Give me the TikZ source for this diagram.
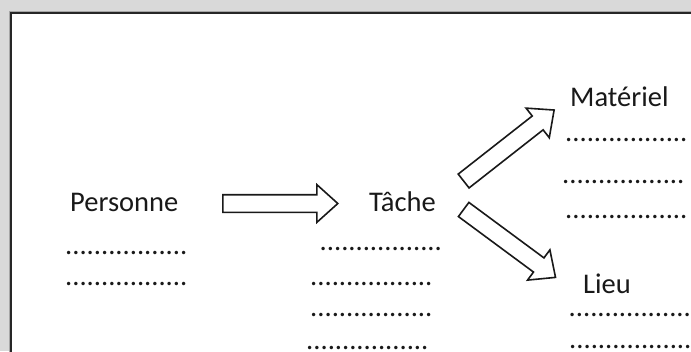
\documentclass[tikz,border=0pt]{standalone}
\usepackage{fontspec}
\setmainfont{Carlito}
\usetikzlibrary{calc,shapes.arrows}
\definecolor{pagegray}{HTML}{D9D9D9}
\tikzset{
  lbl/.style={anchor=base west,inner sep=0pt,text=black!90,font=\fontsize{28.5bp}{34bp}\selectfont},
  dotrow/.style={lbl},
  blockarrow/.style={single arrow,draw=black!90,line width=1.6bp,fill=white,inner xsep=0pt,inner ysep=8bp,
    single arrow head extend=10bp,single arrow tip angle=84}
}
% block arrow: name, tail, tip
\newcommand{\blockarr}[3]{%
  \path let \p1=($(#3)-(#2)$) in
    node[blockarrow,minimum height={veclen(\x1,\y1)},rotate={atan2(\y1,\x1)},anchor=tail] (#1) at (#2) {};}

\begin{document}
\begin{tikzpicture}[x=1bp,y=-1bp]
    \useasboundingbox (0,0) rectangle (691,351);
    \clip (0,0) rectangle (691,351);
    \fill[pagegray] (0,0) rectangle (691,351);
    \draw[gray!70,line width=1bp,fill=white] (9,11) rectangle (720,380);
    \draw[black!85,line width=1.6bp] (11,13) rectangle (720,380);

    % titles
    \node[lbl] (personne) at (70,211) {Personne};
    \node[lbl] (tache) at (369,211.5) {Tâche};
    \node[lbl] (materiel) at (570,106.5) {Matériel};
    \node[lbl] (lieu) at (583,293) {Lieu};

    % dotted lines
    \foreach \x/\y [count=\i] in {65/254,65/285.5}
      \node[dotrow] (pdots\i) at (\x,\y) {.................};
    \foreach \x/\y [count=\i] in {319.5/250.5,310/285,310/316.5,306/349}
      \node[dotrow] (tdots\i) at (\x,\y) {.................};
    \foreach \x/\y [count=\i] in {565/141.5,562/183,565/218}
      \node[dotrow] (mdots\i) at (\x,\y) {.................};
    \foreach \x/\y [count=\i] in {568.5/316.5,569/348}
      \node[dotrow] (ldots\i) at (\x,\y) {.................};

    % arrows
    \coordinate (pt) at (222,203.5);
    \coordinate (tp) at (337,203.5);
    \coordinate (tm) at (463,181.5);
    \coordinate (mt) at (553.5,110.5);
    \coordinate (tl) at (463,209);
    \coordinate (lt) at (555,277);
    \blockarr{a1}{pt}{tp}
    \blockarr{a2}{tm}{mt}
    \blockarr{a3}{tl}{lt}
\end{tikzpicture}
\end{document}
